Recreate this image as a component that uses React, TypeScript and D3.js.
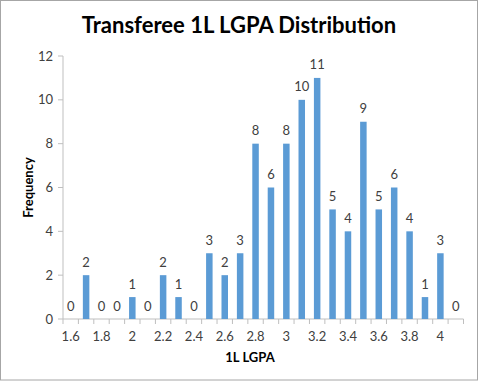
import React from "react";
import * as d3 from "d3";

const categories = ["1.6","1.7","1.8","1.9","2","2.1","2.2","2.3","2.4","2.5","2.6","2.7","2.8","2.9","3","3.1","3.2","3.3","3.4","3.5","3.6","3.7","3.8","3.9","4","4.1"];
const frequency = [0,2,0,0,1,0,2,1,0,3,2,3,8,6,8,10,11,5,4,9,5,6,4,1,3,0];
const yTicks = [0,2,4,6,8,10,12];
const xTickLabels = ["1.6","1.8","2","2.2","2.4","2.6","2.8","3","3.2","3.4","3.6","3.8","4"];

const W = 479, H = 381;
const left = 63, right = 463.5, top = 56, bottom = 319;
const font = "Lato, 'Open Sans', sans-serif";

export default function App() {
  const x = d3.scaleBand<string>().domain(categories).range([left, right]).paddingInner(0).paddingOuter(0);
  const y = d3.scaleLinear().domain([0, 12]).range([bottom, top]);
  const bw = 6.5;
  const boundaries = d3.range(categories.length + 1).map(i => left + i * x.bandwidth());
  return (
    <div style={{ position: "fixed", left: 0, top: 0 }}>
      <svg width={W} height={H} style={{ display: "block" }}>
        <rect x={0} y={0} width={W} height={H} fill="#fff" />
        <rect x={0.5} y={0.5} width={W - 2} height={H - 1.5} fill="none" stroke="#A6A6A6" strokeWidth={1} />
        <text x={239} y={33} textAnchor="middle" fontFamily={font} fontWeight="bold" fontSize={22} fill="#000">Transferee 1L LGPA Distribution</text>
        {/* y axis */}
        <line x1={left} x2={left} y1={top} y2={bottom} stroke="#BFBFBF" />
        {yTicks.map(t => (
          <g key={t}>
            <line x1={left - 5} x2={left} y1={y(t)} y2={y(t)} stroke="#BFBFBF" />
            <text x={left - 10} y={y(t)} dy="0.35em" textAnchor="end" fontFamily={font} fontSize={13} fill="#404040">{t}</text>
          </g>
        ))}
        {/* x axis */}
        <line x1={left} x2={right} y1={bottom} y2={bottom} stroke="#BFBFBF" />
        {boundaries.map((b, i) => (
          <line key={i} x1={b} x2={b} y1={bottom} y2={bottom + 5} stroke="#BFBFBF" />
        ))}
        {xTickLabels.map(l => (
          <text key={l} x={(x(l) ?? 0) + x.bandwidth() / 2} y={bottom + 17} dy="0.35em" textAnchor="middle" fontFamily={font} fontSize={13} fill="#404040">{l}</text>
        ))}
        {/* bars */}
        {categories.map((c, i) => {
          const cx = (x(c) ?? 0) + x.bandwidth() / 2;
          const v = frequency[i];
          return (
            <g key={c}>
              {v > 0 && <rect x={cx - bw / 2} y={y(v)} width={bw} height={bottom - y(v)} fill="#5B9BD5" />}
              <text x={cx} y={y(v) - 13} dy="0.35em" textAnchor="middle" fontFamily={font} fontSize={13} fill="#404040">{v}</text>
            </g>
          );
        })}
        <text transform={`translate(28,${(top + bottom) / 2}) rotate(-90)`} textAnchor="middle" dy="0.35em" fontFamily={font} fontWeight="bold" fontSize={13} fill="#000">Frequency</text>
        <text x={250} y={357} textAnchor="middle" dy="0.35em" fontFamily={font} fontWeight="bold" fontSize={13} fill="#000">1L LGPA</text>
      </svg>
    </div>
  );
}
